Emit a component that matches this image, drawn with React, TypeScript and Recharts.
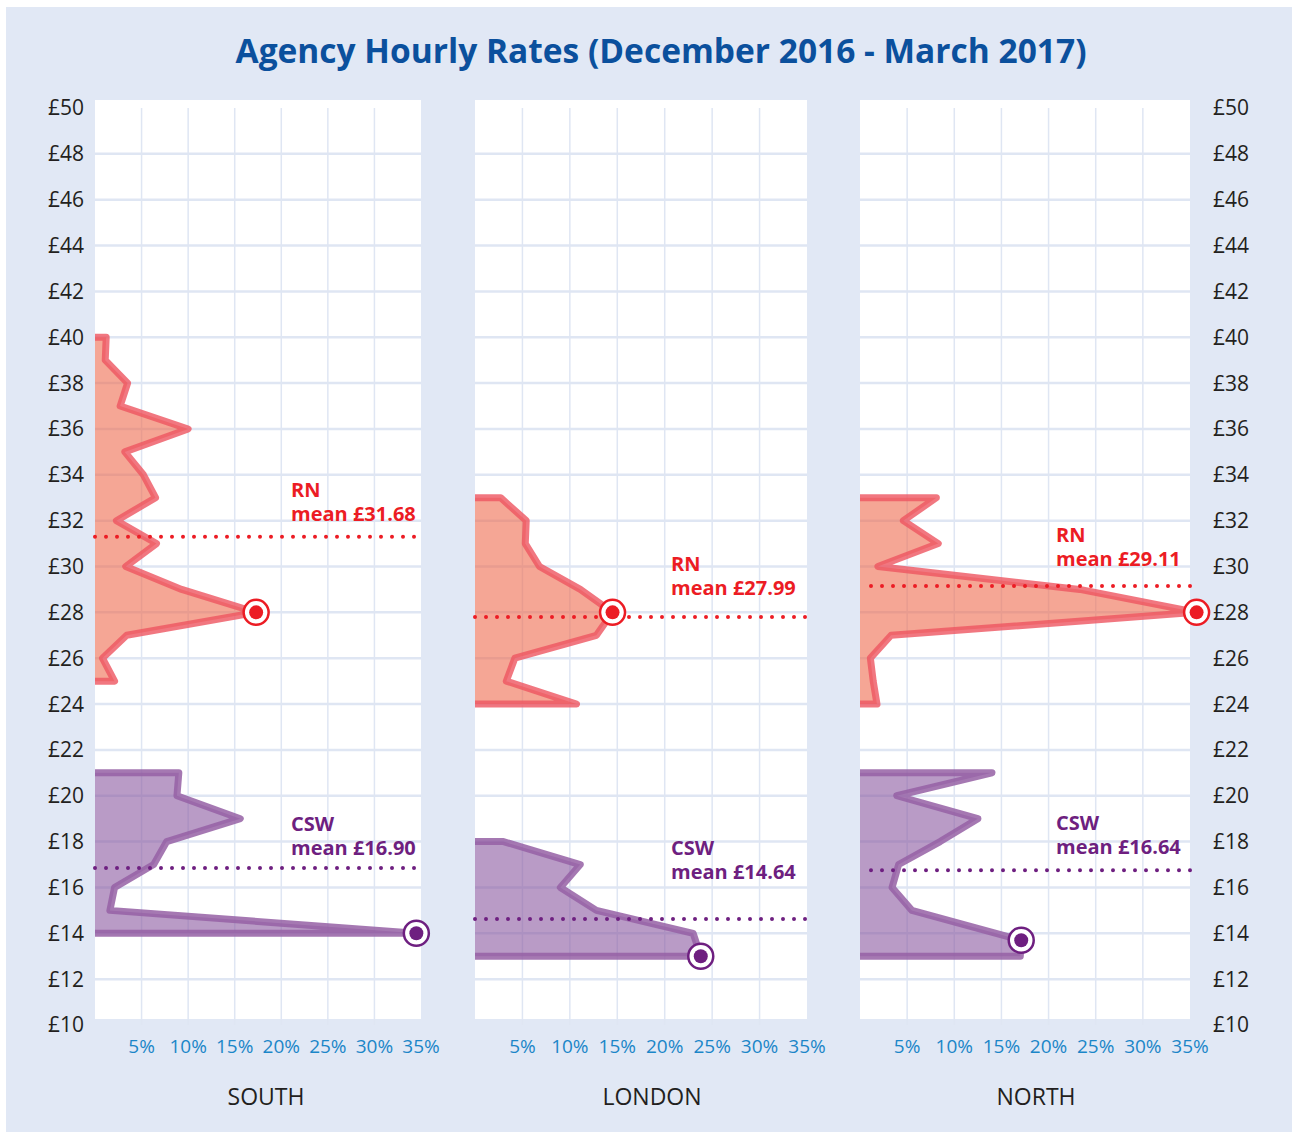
import {
  ComposedChart,
  Area,
  XAxis,
  YAxis,
  CartesianGrid,
  ReferenceLine,
  ReferenceDot,
} from "recharts";

const regions = ["SOUTH", "LONDON", "NORTH"];
const rateTicks = [10, 12, 14, 16, 18, 20, 22, 24, 26, 28, 30, 32, 34, 36, 38, 40, 42, 44, 46, 48, 50];
const gridRates = [12, 14, 16, 18, 20, 22, 24, 26, 28, 30, 32, 34, 36, 38, 40, 42, 44, 46, 48];
const shareTicks = [5, 10, 15, 20, 25, 30, 35];
const gridShares = [5, 10, 15, 20, 25, 30];

// RN: hourly rate (£) and share of shifts (%)
const southRnRates = [40, 39, 38, 37, 36, 35, 34, 33, 32, 31, 30, 29, 28, 27, 26, 25];
const southRnShare = [1.2, 1.1, 3.5, 2.7, 10.0, 3.2, 5.2, 6.5, 2.3, 6.6, 3.3, 9.3, 17.3, 3.4, 0.8, 2.1];
const londonRnRates = [33, 32, 31, 30, 29, 28, 27, 26, 25, 24];
const londonRnShare = [2.7, 5.4, 5.3, 6.8, 11.1, 14.5, 12.8, 4.2, 3.3, 10.7];
const northRnRates = [33, 32, 31, 30, 29, 28, 27, 26, 25, 24];
const northRnShare = [8.1, 4.6, 8.3, 1.9, 23.3, 35.7, 3.3, 1.1, 1.4, 1.8];

// CSW
const southCswRates = [21, 20, 19, 18, 17, 16, 15, 14];
const southCswShare = [9.0, 8.8, 15.6, 7.7, 6.3, 2.1, 1.6, 34.5];
const londonCswRates = [18, 17, 16, 15, 14, 13];
const londonCswShare = [3.0, 11.1, 9.0, 12.8, 23.0, 23.8];
const northCswRates = [21, 20, 19, 18, 17, 16, 15, 13.7, 13];
const northCswShare = [14.0, 3.9, 12.5, 8.5, 4.1, 3.4, 5.5, 17.1, 17.0];

const rnMeanText = ["31.68", "27.99", "29.11"];
const cswMeanText = ["16.90", "14.64", "16.64"];
const rnMeanLine = [31.3, 27.8, 29.15];
const cswMeanLine = [16.85, 14.62, 16.75];

const RED = "#ec1c24";
const PURPLE = "#6e1f80";
const FONT = "'Open Sans', sans-serif";

// page layout of the three white panels
const panels = [
  { left: 95, right: 421, axis: "left", labelX: 266, rnLift: 16, cswLift: 13 },
  { left: 475, right: 807, axis: "none", labelX: 652, rnLift: 22, cswLift: 40 },
  { left: 860, right: 1190, axis: "right", labelX: 1036, rnLift: 20, cswLift: 16 },
];

function series(rates: number[], share: number[], key: string) {
  return [
    { rate: rates[0], [key]: 0 },
    ...rates.map((r, i) => ({ rate: r, [key]: share[i] })),
    { rate: rates[rates.length - 1], [key]: 0 },
  ];
}

function peak(rates: number[], share: number[]) {
  const i = share.indexOf(Math.max(...share));
  return { rate: rates[i], share: share[i] };
}

const rnData = [
  [southRnRates, southRnShare],
  [londonRnRates, londonRnShare],
  [northRnRates, northRnShare],
];
const cswData = [
  [southCswRates, southCswShare],
  [londonCswRates, londonCswShare],
  [northCswRates, northCswShare],
];

const meanLabel = (title: string, amount: string, color: string, lift: number) => (props: any) => {
  const { x, y } = props.viewBox;
  const style = { fill: color, fontSize: 20, fontWeight: 700, fontFamily: FONT };
  return (
    <g>
      <text x={x + 196} y={y - lift - 24} style={style}>{title}</text>
      <text x={x + 196} y={y - lift} style={style}>mean £{amount}</text>
    </g>
  );
};

const marker = (color: string) => (props: any) => (
  <g>
    <circle cx={props.cx} cy={props.cy} r={12.5} fill="#fff" stroke={color} strokeWidth={2.5} />
    <circle cx={props.cx} cy={props.cy} r={7} fill={color} />
  </g>
);

function RegionChart({ idx }: { idx: number }) {
  const p = panels[idx];
  const [rnR, rnS] = rnData[idx];
  const [cswR, cswS] = cswData[idx];
  const rows = [...series(rnR, rnS, "rn"), ...series(cswR, cswS, "csw")];
  const rnPeak = peak(rnR, rnS);
  const cswPeak = peak(cswR, cswS);
  const axisW = p.axis === "left" ? 60 : p.axis === "right" ? 70 : 0;
  const margin = {
    top: 108,
    bottom: 67,
    left: p.axis === "left" ? p.left - axisW : p.left,
    right: p.axis === "right" ? 1293 - p.right - axisW : 1293 - p.right,
  };

  return (
    <div style={{ position: "absolute", left: 0, top: 0 }}>
      <ComposedChart width={1293} height={1132} data={rows} layout="vertical" margin={margin}>
        <CartesianGrid horizontal={false} verticalValues={gridShares} stroke="#dfe6f3" strokeWidth={1.5} />
        <CartesianGrid vertical={false} horizontalValues={gridRates} stroke="#dfe6f3" strokeWidth={2.5} />
        <XAxis
          type="number"
          domain={[0, 35]}
          allowDataOverflow
          ticks={shareTicks}
          interval={0}
          tickFormatter={(v) => `${v}%`}
          axisLine={false}
          tickLine={false}
          tickSize={0}
          tickMargin={15}
          height={40}
          tick={{ fill: "#1b86c8", fontSize: 19, fontFamily: FONT }}
        />
        <YAxis
          type="number"
          dataKey="rate"
          domain={[10, 50]}
          reversed
          ticks={rateTicks}
          interval={0}
          hide={p.axis === "none"}
          orientation={p.axis === "right" ? "right" : "left"}
          width={axisW}
          tickFormatter={(v) => `£${v}`}
          axisLine={false}
          tickLine={false}
          tickSize={0}
          tickMargin={p.axis === "right" ? 23 : 11}
          tick={{ fill: "#231f20", fontSize: 21, fontFamily: FONT }}
        />
        <Area
          type="linear"
          dataKey="rn"
          fill="#ef6b4f"
          fillOpacity={0.6}
          stroke="#ee5560"
          strokeOpacity={0.8}
          strokeWidth={7}
          strokeLinejoin="round"
          isAnimationActive={false}
        />
        <Area
          type="linear"
          dataKey="csw"
          fill="#8a58a0"
          fillOpacity={0.6}
          stroke="#9560a5"
          strokeOpacity={0.85}
          strokeWidth={7}
          strokeLinejoin="round"
          isAnimationActive={false}
        />
        <ReferenceLine
          y={rnMeanLine[idx]}
          stroke={RED}
          strokeWidth={4}
          strokeDasharray="0 11"
          strokeLinecap="round"
          label={meanLabel("RN", rnMeanText[idx], RED, p.rnLift)}
        />
        <ReferenceLine
          y={cswMeanLine[idx]}
          stroke={PURPLE}
          strokeWidth={4}
          strokeDasharray="0 11"
          strokeLinecap="round"
          label={meanLabel("CSW", cswMeanText[idx], PURPLE, p.cswLift)}
        />
        <ReferenceDot x={rnPeak.share} y={rnPeak.rate} ifOverflow="visible" shape={marker(RED)} />
        <ReferenceDot x={cswPeak.share} y={cswPeak.rate} ifOverflow="visible" shape={marker(PURPLE)} />
      </ComposedChart>
    </div>
  );
}

export default function App() {
  return (
    <div style={{ position: "absolute", left: 0, top: 0, width: 1293, height: 1132, background: "#fff", fontFamily: FONT }}>
      <div style={{ position: "absolute", left: 6, top: 7, width: 1286, height: 1125, background: "#e1e8f5" }} />
      {panels.map((p, i) => (
        <div
          key={"panel" + i}
          style={{ position: "absolute", left: p.left, top: 100, width: p.right - p.left, height: 919, background: "#fff" }}
        />
      ))}
      <div
        style={{
          position: "absolute",
          left: 161,
          top: 29,
          width: 1000,
          textAlign: "center",
          color: "#0b509d",
          fontSize: 33.5,
          fontWeight: 700,
          lineHeight: "42px",
          whiteSpace: "nowrap",
        }}
      >
        Agency Hourly Rates (December 2016 - March 2017)
      </div>
      {regions.map((_, i) => (
        <RegionChart key={regions[i]} idx={i} />
      ))}
      {regions.map((r, i) => (
        <div
          key={"lab" + r}
          style={{
            position: "absolute",
            left: panels[i].labelX - 100,
            top: 1080,
            width: 200,
            textAlign: "center",
            color: "#231f20",
            fontSize: 23,
            lineHeight: "32px",
          }}
        >
          {r}
        </div>
      ))}
    </div>
  );
}
